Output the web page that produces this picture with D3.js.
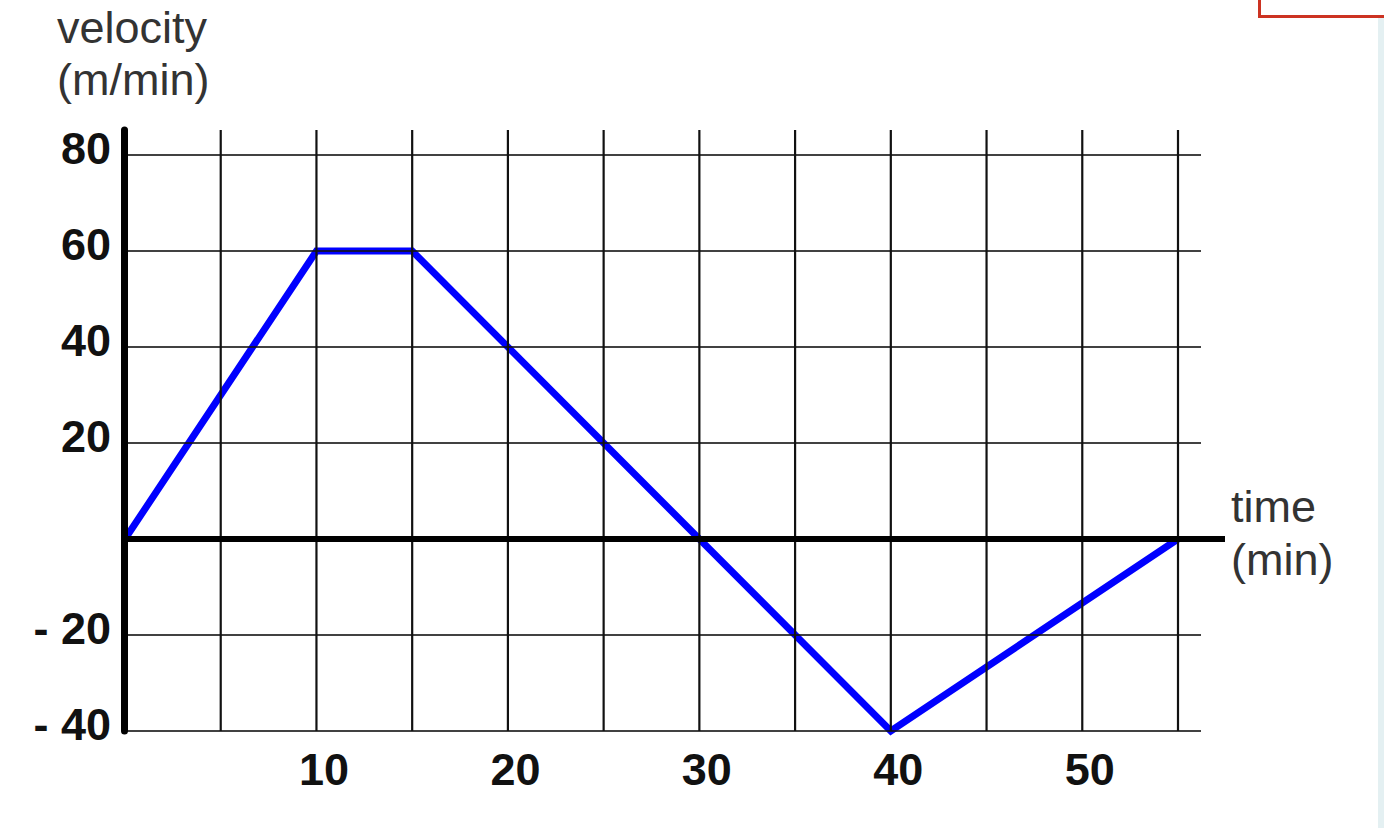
<!DOCTYPE html>
<html>
<head>
<meta charset="utf-8">
<script src="https://cdn.jsdelivr.net/npm/d3@7"></script>
<style>
    html, body { margin: 0; padding: 0; background: #fff; }
    svg { display: block; }
</style>
</head>
<body>
<svg id="chart"></svg>
<script>
// data
var times = [0, 10, 15, 30, 40, 55];
var velocities = [0, 60, 60, 0, -40, 0];
var xTicks = [10, 20, 30, 40, 50];
var xGrid = [5, 10, 15, 20, 25, 30, 35, 40, 45, 50, 55];
var yTicks = [80, 60, 40, 20, -20, -40];
var yTickLabels = ["80", "60", "40", "20", "- 20", "- 40"];

var svgW = 1384, svgH = 828;
var svg = d3.select("#chart").attr("width", svgW).attr("height", svgH);

var xScale = d3.scaleLinear().domain([0, 55]).range([125, 1178]);
var yScale = d3.scaleLinear().domain([-40, 80]).range([731, 155]);

var gridRight = xScale.range()[1] + 23;
var gridTop = yScale(80) - 25;
var font = "'Liberation Sans', Arial, sans-serif";

// page decorations
svg.append("rect")
    .attr("x", 1259.5).attr("y", -10)
    .attr("width", 200).attr("height", 26.5)
    .attr("fill", "none")
    .attr("stroke", "#cc3322")
    .attr("stroke-width", 3);
svg.append("rect")
    .attr("x", 1378).attr("y", 18)
    .attr("width", 6).attr("height", svgH)
    .attr("fill", "#e4f0f2");

// velocity line (under the grid)
var line = d3.line()
    .x(function (d, i) { return xScale(times[i]); })
    .y(function (d) { return yScale(d); });
svg.append("path")
    .datum(velocities)
    .attr("d", line)
    .attr("fill", "none")
    .attr("stroke", "#0000ff")
    .attr("stroke-width", 7)
    .attr("stroke-linejoin", "miter");

// grid
var gridG = svg.append("g").attr("stroke", "#111").attr("stroke-width", 2.2);
gridG.selectAll("line.h")
    .data(yTicks)
    .enter().append("line")
    .attr("class", "h")
    .attr("x1", xScale(0)).attr("x2", gridRight)
    .attr("y1", yScale).attr("y2", yScale)
    .attr("stroke-opacity", 0.8);
gridG.selectAll("line.v")
    .data(xGrid)
    .enter().append("line")
    .attr("class", "v")
    .attr("x1", xScale).attr("x2", xScale)
    .attr("y1", gridTop).attr("y2", yScale(-40));

// axes
svg.append("line")
    .attr("x1", xScale(0)).attr("x2", xScale.range()[1] + 47)
    .attr("y1", yScale(0)).attr("y2", yScale(0))
    .attr("stroke", "#000")
    .attr("stroke-width", 6);
svg.append("line")
    .attr("x1", xScale(0) - 0.5).attr("x2", xScale(0) - 0.5)
    .attr("y1", gridTop).attr("y2", yScale(-40))
    .attr("stroke", "#000")
    .attr("stroke-width", 7)
    .attr("stroke-linecap", "round");

// tick labels
var xAxis = d3.axisBottom(xScale).tickValues(xTicks).tickSize(0).tickPadding(0);
var xAxisG = svg.append("g")
    .attr("transform", `translate(7,${yScale(-40)})`)
    .call(xAxis);
xAxisG.select(".domain").remove();
xAxisG.selectAll("text")
    .attr("y", 54)
    .attr("dy", null)
    .attr("fill", "#111")
    .attr("font-family", font)
    .attr("font-weight", "bold")
    .attr("font-size", 45);

var yAxis = d3.axisLeft(yScale).tickValues(yTicks).tickSize(0).tickPadding(0)
    .tickFormat(function (d, i) { return yTickLabels[i]; });
var yAxisG = svg.append("g")
    .attr("transform", "translate(111,0)")
    .call(yAxis);
yAxisG.select(".domain").remove();
yAxisG.selectAll("text")
    .attr("x", 0)
    .attr("dy", 8)
    .attr("fill", "#111")
    .attr("font-family", font)
    .attr("font-weight", "bold")
    .attr("font-size", 45);

// axis titles
var titleG = svg.append("g")
    .attr("fill", "#333")
    .attr("font-family", font)
    .attr("font-size", 45);
titleG.append("text").attr("x", 57).attr("y", 43).text("velocity");
titleG.append("text").attr("x", 57).attr("y", 95).text("(m/min)");
titleG.append("text").attr("x", 1231).attr("y", 522).text("time");
titleG.append("text").attr("x", 1231).attr("y", 575).text("(min)");
</script>
</body>
</html>
